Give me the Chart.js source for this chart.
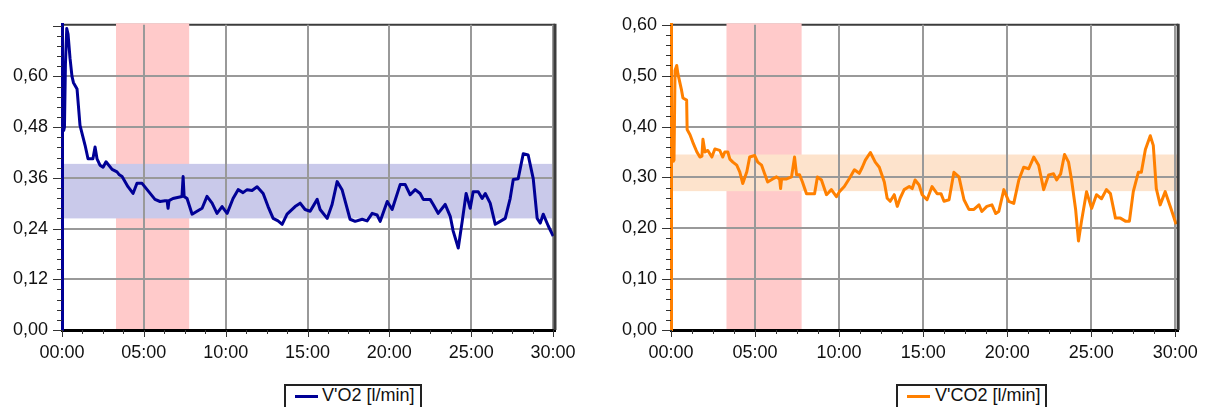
<!DOCTYPE html>
<html>
<head>
<meta charset="utf-8">
<script src="https://cdn.jsdelivr.net/npm/chart.js@4.4.1/dist/chart.umd.min.js"></script>
<style>
  body {
    margin: 0;
    background: #fff;
    width: 1210px;
    height: 407px;
    overflow: hidden;
    position: relative;
    font-family: "Liberation Sans", Arial, sans-serif;
  }
  canvas { position: absolute; top: 0; }
  #vo2-chart { left: 0; }
  #vco2-chart { left: 605px; }
  .legend {
    position: absolute;
    top: 384px;
    height: 32px;
    border: 2px solid #222;
    box-sizing: border-box;
    font-size: 18px;
    color: #111;
  }
  .legend .swatch { position: absolute; top: 9px; width: 23px; height: 3px; }
  .legend .label { position: absolute; top: -1px; line-height: 20px; white-space: nowrap; }
</style>
</head>
<body>
<canvas id="vo2-chart" width="600" height="380"></canvas>
<canvas id="vco2-chart" width="605" height="380"></canvas>

<div class="legend" style="left:284px; width:138px;">
  <span class="swatch" style="left:9px; background:#000096;"></span>
  <span class="label" style="left:36px;">V'O2 [l/min]</span>
</div>
<div class="legend" style="left:896px; width:151px;">
  <span class="swatch" style="left:9px; background:#ff8000;"></span>
  <span class="label" style="left:37px;">V'CO2 [l/min]</span>
</div>

<script>
// axis ticks
const timeTicks = [0, 5, 10, 15, 20, 25, 30];
const vo2Ticks = [0, 0.12, 0.24, 0.36, 0.48, 0.60];
const vco2Ticks = [0, 0.1, 0.2, 0.3, 0.4, 0.5, 0.6];

// shaded windows (minutes / l/min)
const phaseWindow = [3.3, 7.77];
const vo2Range = [0.264, 0.393];
const vco2Range = [0.273, 0.345];

// V'O2, time in minutes
const vo2Time = [0.09, 0.15, 0.21, 0.29, 0.37, 0.49, 0.61, 0.70, 0.92, 1.10,
    1.41, 1.59, 1.89, 2.02, 2.14, 2.32, 2.51, 2.69, 3.06, 3.36,
    3.48, 3.67, 4.03, 4.34, 4.58, 4.89, 5.20, 5.68, 5.99, 6.30,
    6.42, 6.48, 6.54, 6.78, 7.33, 7.40, 7.46, 7.64, 7.95, 8.25,
    8.56, 8.86, 9.17, 9.47, 9.78, 10.09, 10.45, 10.76, 11.06, 11.31,
    11.61, 11.92, 12.29, 12.59, 12.90, 13.20, 13.45, 13.75, 14.24, 14.55,
    14.85, 15.16, 15.59, 15.77, 16.20, 16.50, 16.81, 17.11, 17.60, 17.91,
    18.34, 18.64, 18.95, 19.25, 19.44, 19.87, 20.17, 20.66, 20.97, 21.27,
    21.58, 21.88, 22.07, 22.49, 22.68, 22.98, 23.41, 23.72, 23.90, 24.21,
    24.45, 24.69, 24.94, 25.12, 25.43, 25.67, 25.86, 26.16, 26.47, 26.77,
    27.08, 27.38, 27.57, 27.87, 28.18, 28.48, 28.79, 29.03, 29.22, 29.40,
    29.71, 30.01];
const vo2Values = [0.47, 0.48, 0.63, 0.713, 0.70, 0.643, 0.60, 0.585, 0.57, 0.484,
    0.437, 0.405, 0.405, 0.433, 0.405, 0.39, 0.385, 0.398, 0.38, 0.374,
    0.368, 0.363, 0.339, 0.323, 0.347, 0.347, 0.332, 0.309, 0.304, 0.306,
    0.306, 0.288, 0.306, 0.311, 0.316, 0.363, 0.316, 0.311, 0.274, 0.281,
    0.288, 0.316, 0.300, 0.276, 0.292, 0.276, 0.311, 0.332, 0.325, 0.332,
    0.330, 0.339, 0.323, 0.292, 0.264, 0.258, 0.250, 0.274, 0.292, 0.300,
    0.285, 0.281, 0.309, 0.285, 0.264, 0.297, 0.351, 0.332, 0.262, 0.257,
    0.262, 0.258, 0.276, 0.272, 0.257, 0.304, 0.285, 0.344, 0.344, 0.320,
    0.332, 0.323, 0.309, 0.309, 0.297, 0.276, 0.297, 0.269, 0.234, 0.194,
    0.257, 0.323, 0.288, 0.327, 0.327, 0.311, 0.323, 0.300, 0.250, 0.257,
    0.264, 0.311, 0.356, 0.358, 0.417, 0.414, 0.358, 0.264, 0.253, 0.274,
    0.246, 0.222];

// V'CO2, time in minutes
const vco2Time = [0.10, 0.18, 0.24, 0.34, 0.41, 0.63, 0.71, 0.93, 0.96, 1.13,
    1.30, 1.54, 1.72, 1.84, 1.90, 2.02, 2.19, 2.43, 2.61, 2.90,
    3.08, 3.20, 3.38, 3.50, 3.68, 3.91, 4.09, 4.27, 4.51, 4.68,
    4.98, 5.16, 5.39, 5.57, 5.75, 6.05, 6.28, 6.46, 6.52, 6.58,
    6.88, 7.17, 7.35, 7.47, 7.65, 7.82, 8.06, 8.24, 8.54, 8.71,
    8.95, 9.25, 9.54, 9.84, 10.02, 10.31, 10.61, 10.91, 11.20, 11.38,
    11.56, 11.86, 12.15, 12.39, 12.69, 12.86, 13.04, 13.28, 13.46, 13.63,
    13.87, 14.17, 14.35, 14.52, 14.76, 14.94, 15.23, 15.53, 15.83, 16.06,
    16.24, 16.54, 16.83, 17.13, 17.43, 17.72, 18.02, 18.32, 18.49, 18.79,
    19.09, 19.32, 19.50, 19.80, 20.09, 20.39, 20.69, 20.98, 21.28, 21.58,
    21.87, 22.17, 22.47, 22.76, 22.94, 23.18, 23.41, 23.65, 23.83, 24.07,
    24.24, 24.42, 24.72, 25.02, 25.31, 25.61, 25.90, 26.14, 26.44, 26.73,
    27.03, 27.27, 27.50, 27.80, 27.98, 28.22, 28.51, 28.69, 28.87, 29.10,
    29.40, 29.70, 30.05];
const vco2Values = [0.33, 0.334, 0.51, 0.52, 0.504, 0.471, 0.456, 0.452, 0.394, 0.384,
    0.369, 0.350, 0.340, 0.342, 0.375, 0.350, 0.353, 0.340, 0.356, 0.353,
    0.340, 0.350, 0.350, 0.336, 0.330, 0.324, 0.311, 0.288, 0.311, 0.340,
    0.343, 0.330, 0.324, 0.307, 0.291, 0.297, 0.301, 0.297, 0.278, 0.297,
    0.297, 0.301, 0.340, 0.305, 0.305, 0.291, 0.268, 0.268, 0.268, 0.301,
    0.295, 0.266, 0.276, 0.262, 0.272, 0.282, 0.298, 0.315, 0.308, 0.320,
    0.334, 0.349, 0.330, 0.320, 0.291, 0.259, 0.253, 0.266, 0.243, 0.259,
    0.276, 0.282, 0.278, 0.295, 0.285, 0.266, 0.256, 0.282, 0.268, 0.268,
    0.253, 0.256, 0.310, 0.301, 0.256, 0.237, 0.237, 0.246, 0.233, 0.243,
    0.246, 0.229, 0.233, 0.276, 0.253, 0.249, 0.295, 0.320, 0.317, 0.340,
    0.324, 0.276, 0.305, 0.307, 0.295, 0.307, 0.345, 0.330, 0.295, 0.237,
    0.175, 0.214, 0.272, 0.239, 0.266, 0.258, 0.276, 0.268, 0.220, 0.220,
    0.214, 0.214, 0.272, 0.310, 0.310, 0.355, 0.382, 0.363, 0.278, 0.246,
    0.272, 0.243, 0.208];

const GRID = "#999999";
const FRAME = "#3c3c3c";

Chart.defaults.font.family = '"Liberation Sans", Arial, sans-serif';
Chart.defaults.font.size = 18;
Chart.defaults.color = "#111";

// bands under the grid, tick marks and right frame on top
const framePlugin = {
    id: "frame",
    beforeDraw(chart, args, o) {
        const { ctx, chartArea: a, scales: { x, y } } = chart;
        ctx.save();
        ctx.strokeStyle = FRAME;
        ctx.lineWidth = 2;
        ctx.beginPath();
        ctx.moveTo(a.left, a.top);
        ctx.lineTo(a.right, a.top);
        ctx.stroke();

        const px0 = x.getPixelForValue(o.phase[0]);
        const px1 = x.getPixelForValue(o.phase[1]);
        ctx.fillStyle = "#ffcaca";
        ctx.fillRect(px0, a.top - 1.5, px1 - px0, a.height + 1.5);

        const py1 = y.getPixelForValue(o.range[1]);
        const py0 = y.getPixelForValue(o.range[0]);
        ctx.fillStyle = o.rangeColor;
        ctx.fillRect(a.left, py1, a.width, py0 - py1);
        ctx.restore();
    },
    afterDraw(chart, args, o) {
        const { ctx, chartArea: a, scales: { x, y } } = chart;
        ctx.save();
        ctx.strokeStyle = "#333";
        ctx.lineWidth = 1;
        ctx.beginPath();
        for (let i = 0; i * o.minorX <= x.max + 1e-9; i++) {
            const px = Math.round(x.getPixelForValue(i * o.minorX)) + 0.5;
            const len = i % 4 === 0 ? 7 : 4;
            ctx.moveTo(px, a.bottom);
            ctx.lineTo(px, a.bottom + len);
        }
        for (let i = 0; i * o.minorY <= y.max + 1e-9; i++) {
            const py = Math.round(y.getPixelForValue(i * o.minorY)) + 0.5;
            const len = i % 5 === 0 ? 9 : 5;
            ctx.moveTo(a.left - len, py);
            ctx.lineTo(a.left, py);
        }
        ctx.stroke();

        ctx.strokeStyle = FRAME;
        ctx.lineWidth = 3;
        ctx.beginPath();
        ctx.moveTo(a.right, a.top - 1);
        ctx.lineTo(a.right, a.bottom);
        ctx.stroke();
        ctx.restore();
    },
};

function makeChart(id, cfg) {
    const data = cfg.time.map((t, i) => ({ x: t, y: cfg.values[i] }));
    return new Chart(document.getElementById(id), {
        type: "line",
        data: {
            datasets: [
                {
                    label: cfg.label,
                    data: data,
                    borderColor: cfg.color,
                    borderWidth: 3,
                    pointRadius: 0,
                    tension: 0,
                    borderJoinStyle: "round",
                },
            ],
        },
        options: {
            responsive: false,
            animation: false,
            layout: { padding: { left: 0, top: 19, right: cfg.padRight, bottom: 0 } },
            plugins: {
                legend: { display: false },
                tooltip: { enabled: false },
                frame: {
                    phase: phaseWindow,
                    range: cfg.range,
                    rangeColor: cfg.rangeColor,
                    minorX: 1.25,
                    minorY: cfg.minorY,
                },
            },
            scales: {
                x: {
                    type: "linear",
                    min: 0,
                    max: cfg.xMax,
                    afterBuildTicks: (s) => { s.ticks = timeTicks.map((v) => ({ value: v })); },
                    afterFit: (s) => { s.height = 50; },
                    grid: { color: GRID, lineWidth: 2, drawTicks: false },
                    border: { color: "#000", width: 3 },
                    ticks: {
                        padding: 12,
                        maxRotation: 0,
                        callback: (v) => String(v).padStart(2, "0") + ":00",
                    },
                },
                y: {
                    min: 0,
                    max: cfg.yMax,
                    afterBuildTicks: (s) => { s.ticks = cfg.ticks.map((v) => ({ value: v })); },
                    afterFit: (s) => { s.width = cfg.axisWidth; },
                    grid: {
                        color: (c) => (c.tick && c.tick.value >= cfg.yMax - 1e-9 ? "rgba(0,0,0,0)" : GRID),
                        lineWidth: 2,
                        drawTicks: false,
                    },
                    border: { color: cfg.color, width: 3 },
                    ticks: {
                        padding: 14,
                        callback: (v) => v.toFixed(2).replace(".", ","),
                    },
                },
            },
        },
        plugins: [framePlugin],
    });
}

makeChart("vo2-chart", {
    label: "V'O2 [l/min]",
    time: vo2Time,
    values: vo2Values,
    color: "#000096",
    range: vo2Range,
    rangeColor: "#c9c9ea",
    ticks: vo2Ticks,
    minorY: 0.024,
    yMax: 0.722,
    xMax: 30.12,
    axisWidth: 62,
    padRight: 45,
});

makeChart("vco2-chart", {
    label: "V'CO2 [l/min]",
    time: vco2Time,
    values: vco2Values,
    color: "#ff8000",
    range: vco2Range,
    rangeColor: "#fde3cc",
    ticks: vco2Ticks,
    minorY: 0.02,
    yMax: 0.6,
    xMax: 30.17,
    axisWidth: 66,
    padRight: 30,
});
</script>
</body>
</html>
